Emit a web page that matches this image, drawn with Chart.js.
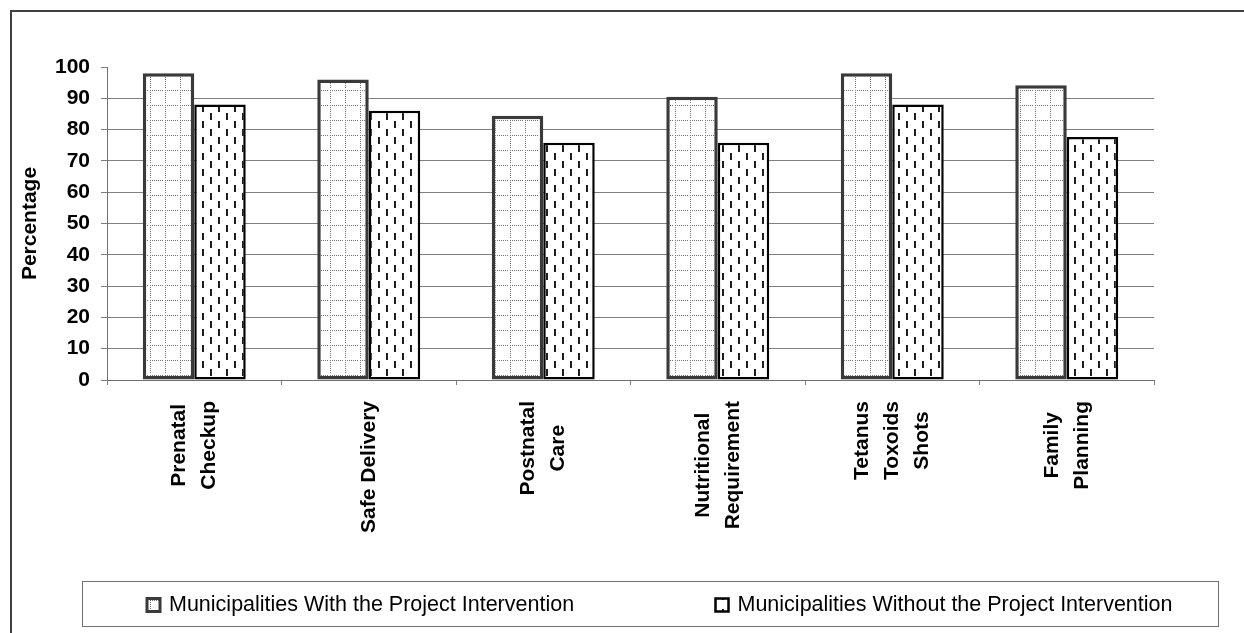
<!DOCTYPE html>
<html>
<head>
<meta charset="utf-8">
<title>Maternal health services</title>
<script src="https://cdn.jsdelivr.net/npm/chart.js@4.4.1/dist/chart.umd.min.js"></script>
<style>
  html, body { margin: 0; padding: 0; background: #ffffff; }
  canvas { display: block; }
</style>
</head>
<body>
<canvas id="chart" width="1244" height="633"></canvas>
<script>
// Service categories (multi-line labels are stacked when drawn under the axis)
const categories = [
  ['Prenatal', 'Checkup'],
  'Safe Delivery',
  ['Postnatal', 'Care'],
  ['Nutritional', 'Requirement'],
  ['Tetanus', 'Toxoids', 'Shots'],
  ['Family', 'Planning']
];

// Percentage of respondents availing each service
const withIntervention = [98, 96, 84.4, 90.5, 98, 94.2];
const withoutIntervention = [88, 86, 75.8, 75.8, 88, 77.6];

const seriesNames = [
  'Municipalities With the Project Intervention',
  'Municipalities Without the Project Intervention'
];

const yAxisTitle = 'Percentage';
const yMin = 0;
const yMax = 100;
const yStep = 10;

const FONT = '"Liberation Sans", Arial, Helvetica, sans-serif';
Chart.defaults.font.family = FONT;
Chart.defaults.color = '#000000';

const canvas = document.getElementById('chart');
const ctx = canvas.getContext('2d');

// Fill for the first series: white with a dotted grey lattice
function latticePattern() {
  const size = 15;
  const t = document.createElement('canvas');
  t.width = size; t.height = size;
  const g = t.getContext('2d');
  g.fillStyle = '#ffffff';
  g.fillRect(0, 0, size, size);
  g.fillStyle = '#767676';
  for (let i = 0; i < size - 1; i += 2) {
    g.fillRect(i, 0, 1, 1);
    g.fillRect(0, i, 1, 1);
  }
  return ctx.createPattern(t, 'repeat');
}

// Fill for the second series: white with staggered short vertical dashes
function dashPattern() {
  const w = 16, h = 16;
  const t = document.createElement('canvas');
  t.width = w; t.height = h;
  const g = t.getContext('2d');
  g.fillStyle = '#ffffff';
  g.fillRect(0, 0, w, h);
  g.fillStyle = '#1e1e1e';
  g.fillRect(2, 1, 2, 7);
  g.fillRect(10, 9, 2, 7);
  return ctx.createPattern(t, 'repeat');
}

// Category labels: rotated, each line centred within its block
const categoryLabels = {
  id: 'categoryLabels',
  afterDraw(chart) {
    const xs = chart.scales.x;
    const c = chart.ctx;
    c.save();
    c.font = 'bold 21px ' + FONT;
    c.fillStyle = '#000000';
    c.textAlign = 'center';
    c.textBaseline = 'middle';
    const top = xs.top + 21;
    const lineGap = 30;
    chart.data.labels.forEach((lab, i) => {
      const lines = Array.isArray(lab) ? lab : [lab];
      const w = Math.max(...lines.map(l => c.measureText(l).width));
      const px = xs.getPixelForTick(i);
      c.save();
      c.translate(px, top);
      c.rotate(-Math.PI / 2);
      lines.forEach((l, k) => {
        c.fillText(l, -w / 2, (k - (lines.length - 1) / 2) * lineGap);
      });
      c.restore();
    });
    c.restore();
  }
};

// Outer frame of the figure, plus a boxed legend laid out in two equal columns
const frameAndLegend = {
  id: 'frameAndLegend',
  afterDraw(chart) {
    const c = chart.ctx;
    c.save();
    c.strokeStyle = '#404040';
    c.lineWidth = 2;
    c.beginPath();
    c.moveTo(11, chart.height);
    c.lineTo(11, 11);
    c.lineTo(chart.width, 11);
    c.stroke();

    const box = { left: 82, top: 581, width: 1137, height: 46 };
    c.strokeStyle = '#707070';
    c.lineWidth = 1;
    c.strokeRect(box.left + 0.5, box.top + 0.5, box.width - 1, box.height - 1);

    const items = Chart.defaults.plugins.legend.labels.generateLabels(chart);
    const colW = box.width / items.length;
    const midY = box.top + box.height / 2;
    const swatch = 13;
    c.font = '21.5px ' + FONT;
    c.textAlign = 'left';
    c.textBaseline = 'middle';
    items.forEach((it, k) => {
      const x0 = box.left + 65 + k * colW;
      const y0 = midY - swatch / 2 + 1;
      c.fillStyle = it.fillStyle;
      c.fillRect(x0, y0, swatch, swatch);
      c.lineWidth = Math.min(it.lineWidth, 3);
      c.strokeStyle = it.strokeStyle;
      c.strokeRect(x0, y0, swatch, swatch);
      c.fillStyle = '#000000';
      c.fillText(it.text, x0 + swatch + 9, midY + 1);
    });
    c.restore();
  }
};

new Chart(ctx, {
  type: 'bar',
  data: {
    labels: categories,
    datasets: [
      {
        label: seriesNames[0],
        data: withIntervention,
        backgroundColor: latticePattern(),
        borderColor: '#3a3a3a',
        borderWidth: 3.5,
        borderSkipped: false,
        categoryPercentage: 0.59,
        barPercentage: 1.0
      },
      {
        label: seriesNames[1],
        data: withoutIntervention,
        backgroundColor: dashPattern(),
        borderColor: '#000000',
        borderWidth: 2.5,
        borderSkipped: false,
        categoryPercentage: 0.59,
        barPercentage: 1.0
      }
    ]
  },
  options: {
    responsive: false,
    animation: false,
    events: [],
    layout: { padding: { left: 11.5, right: 90, top: 67, bottom: 0 } },
    plugins: {
      legend: { display: false },
      tooltip: { enabled: false }
    },
    scales: {
      x: {
        grid: {
          offset: true,
          drawOnChartArea: false,
          drawTicks: true,
          tickLength: 5,
          color: '#808080'
        },
        border: { color: '#707070', width: 1 },
        ticks: { display: false },
        afterFit(s) { s.height = 253; s.paddingLeft = 0; s.paddingRight = 0; }
      },
      y: {
        min: yMin,
        max: yMax,
        ticks: {
          stepSize: yStep,
          autoSkip: false,
          padding: 11,
          color: '#000000',
          font: { size: 21, weight: 'bold' }
        },
        grid: {
          color: c => (c.tick && c.tick.value === yMax) ? 'rgba(0,0,0,0)' : '#808080',
          tickColor: '#808080',
          tickLength: 6,
          lineWidth: 1
        },
        border: { color: '#707070', width: 1 },
        title: {
          display: true,
          text: yAxisTitle,
          color: '#000000',
          font: { size: 21, weight: 'bold' },
          padding: { top: 5.9, bottom: 0 }
        },
        afterFit(s) { s.width = 95.5; s.paddingTop = 0; s.paddingBottom = 0; }
      }
    }
  },
  plugins: [categoryLabels, frameAndLegend]
});
</script>
</body>
</html>
